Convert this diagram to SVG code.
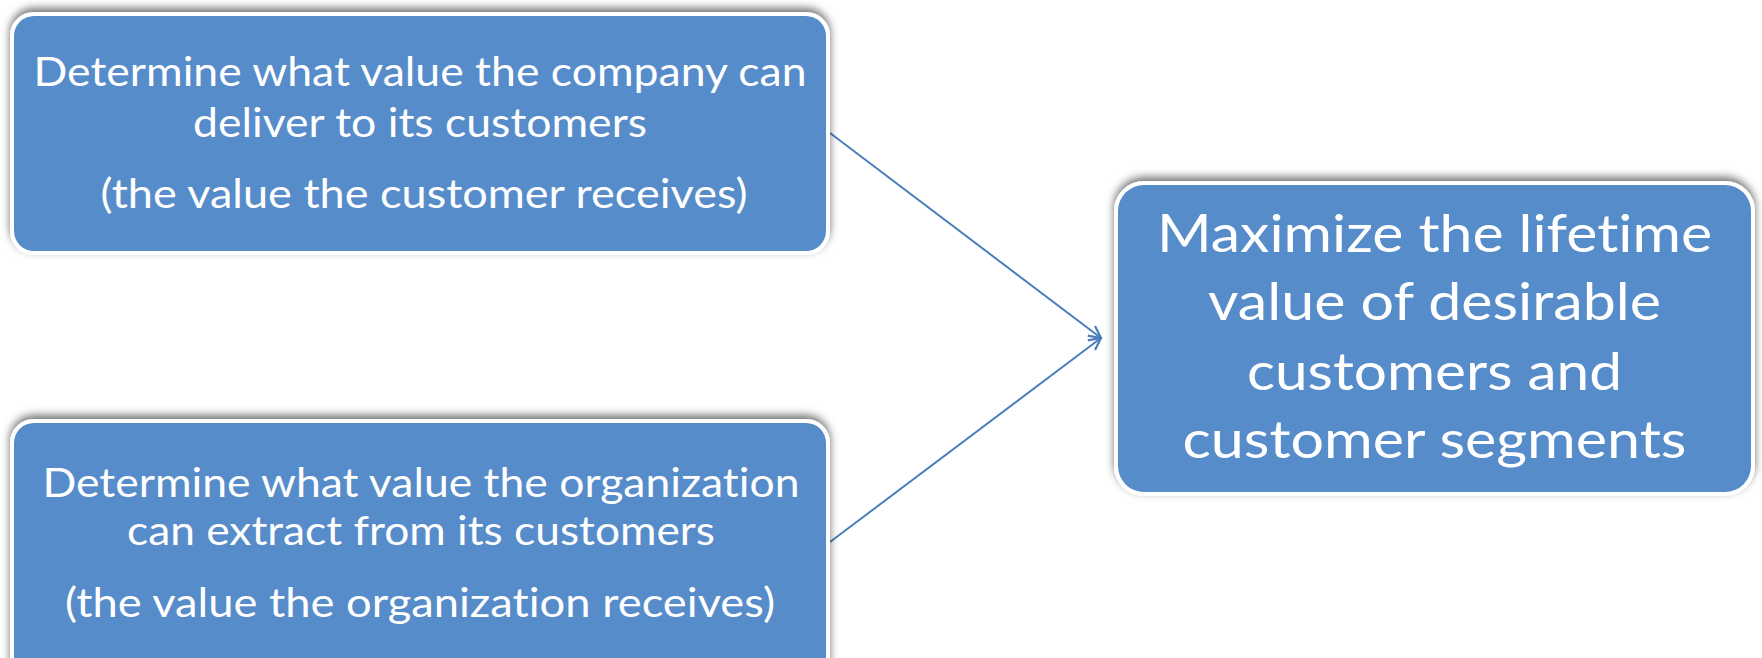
<svg xmlns="http://www.w3.org/2000/svg" width="1762" height="658" viewBox="0 0 1762 658">
  <style>
    .frame { fill: #ffffff; filter: url(#shadow); }
    .box { fill: #578cca; }
    .t { fill: #ffffff; font-family: Lato, "Open Sans", "Liberation Sans", sans-serif; text-anchor: middle; font-variant-ligatures: none; font-feature-settings: "liga" 0, "dlig" 0, "clig" 0; }
    .s { font-size: 41px; }
    .l { font-size: 53px; }
    .conn { stroke: #4a7ebb; stroke-width: 2; fill: none; marker-end: url(#arrow); }
  </style>
  <defs>
    <filter id="shadow" x="-5%" y="-20%" width="110%" height="140%">
      <feGaussianBlur in="SourceAlpha" stdDeviation="4" result="b"/>
      <feOffset in="b" dx="0" dy="-4" result="o"/>
      <feFlood flood-color="#000000" flood-opacity="0.55"/>
      <feComposite in2="o" operator="in" result="sh"/>
      <feMerge>
        <feMergeNode in="sh"/>
        <feMergeNode in="SourceGraphic"/>
      </feMerge>
    </filter>
    <marker id="arrow" viewBox="0 0 14 14" refX="13" refY="7" markerWidth="14" markerHeight="14" markerUnits="userSpaceOnUse" orient="auto">
      <path d="M1,1 L13,7 L1,13" fill="none" stroke="#4a7ebb" stroke-width="2.2"/>
    </marker>
  </defs>

  <g id="connectors">
    <line class="conn" x1="830" y1="133" x2="1101" y2="338"/>
    <line class="conn" x1="830" y1="542" x2="1101" y2="338"/>
  </g>

  <g id="node-deliver">
    <rect class="frame" x="10" y="12" width="820" height="243" rx="24"/>
    <rect class="box" x="14" y="16" width="812" height="235" rx="20"/>
    <text class="t s" x="420" y="86" textLength="773" lengthAdjust="spacingAndGlyphs">Determine what value the company can</text>
    <text class="t s" x="420" y="137" textLength="454" lengthAdjust="spacingAndGlyphs">deliver to its customers</text>
    <text class="t s" x="424" y="208" textLength="647" lengthAdjust="spacingAndGlyphs">(the value the customer receives)</text>
  </g>

  <g id="node-extract">
    <rect class="frame" x="10" y="419" width="820" height="270" rx="24"/>
    <rect class="box" x="14" y="423" width="812" height="262" rx="20"/>
    <text class="t s" x="421" y="497" textLength="757" lengthAdjust="spacingAndGlyphs">Determine what value the organization</text>
    <text class="t s" x="421" y="545" textLength="588" lengthAdjust="spacingAndGlyphs">can extract from its customers</text>
    <text class="t s" x="420" y="617" textLength="710" lengthAdjust="spacingAndGlyphs">(the value the organization receives)</text>
  </g>

  <g id="node-maximize">
    <rect class="frame" x="1114" y="181" width="641" height="315" rx="30"/>
    <rect class="box" x="1118" y="185" width="633" height="307" rx="26"/>
    <text class="t l" x="1434.5" y="252" textLength="555" lengthAdjust="spacingAndGlyphs">Maximize the lifetime</text>
    <text class="t l" x="1434.5" y="320" textLength="453" lengthAdjust="spacingAndGlyphs">value of desirable</text>
    <text class="t l" x="1434.5" y="390" textLength="375" lengthAdjust="spacingAndGlyphs">customers and</text>
    <text class="t l" x="1434.5" y="458" textLength="504" lengthAdjust="spacingAndGlyphs">customer segments</text>
  </g>
</svg>
